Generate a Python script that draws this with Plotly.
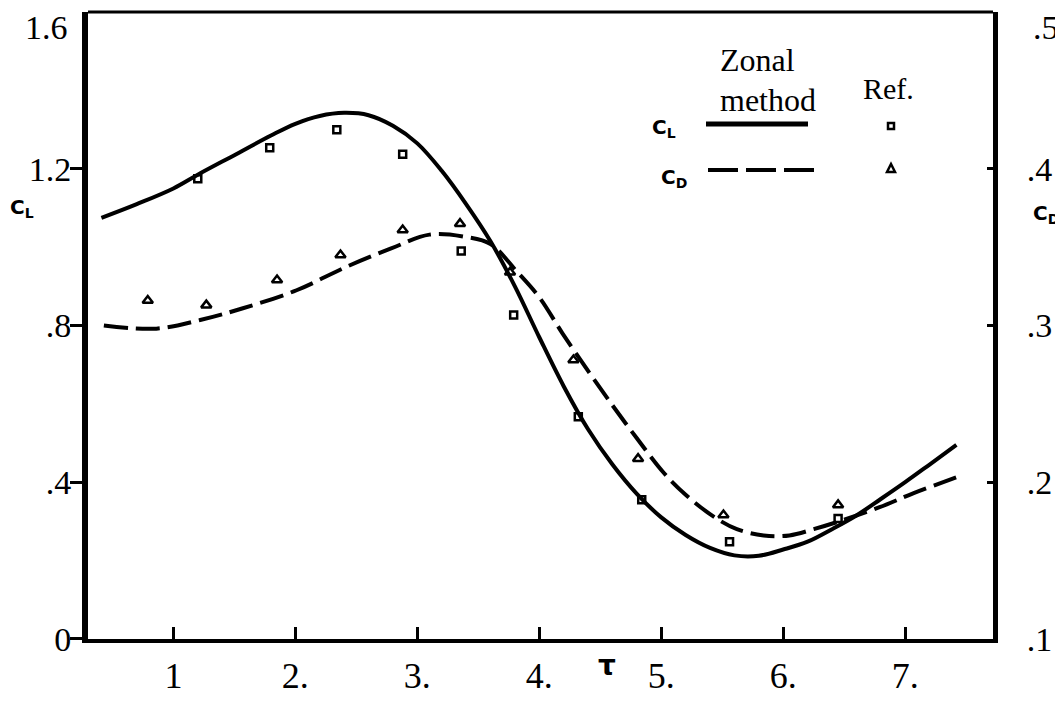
import plotly.graph_objects as go

# ---- data ----
cl_x = [0.41, 0.7, 1.0, 1.2, 1.5, 1.8, 2.0, 2.2, 2.4, 2.6, 2.8, 3.0, 3.2, 3.4, 3.6, 3.8,
        4.0, 4.2, 4.4, 4.6, 4.8, 5.0, 5.2, 5.4, 5.6, 5.8, 6.0, 6.2, 6.4, 6.6, 6.8, 7.0, 7.2, 7.42]
cl_y = [1.075, 1.11, 1.15, 1.185, 1.235, 1.285, 1.315, 1.335, 1.343, 1.337, 1.31, 1.265, 1.195,
        1.11, 1.015, 0.9, 0.77, 0.645, 0.535, 0.445, 0.37, 0.31, 0.265, 0.232, 0.213, 0.212,
        0.228, 0.248, 0.28, 0.315, 0.357, 0.40, 0.445, 0.495]

cd_x = [0.43, 0.86, 1.22, 1.57, 2.01, 2.42, 2.78, 3.10, 3.40, 3.60, 3.81, 4.00, 4.19, 4.40,
        4.61, 4.80, 5.02, 5.20, 5.43, 5.62, 5.84, 6.05, 6.25, 6.50, 6.79, 7.07, 7.47]
cd_y = [0.300, 0.298, 0.3035, 0.311, 0.3225, 0.3375, 0.349, 0.358, 0.3565, 0.352, 0.335, 0.318,
        0.295, 0.271, 0.248, 0.228, 0.206, 0.192, 0.178, 0.170, 0.166, 0.166, 0.170, 0.176,
        0.184, 0.193, 0.2045]

ref_cl_x = [1.20, 1.79, 2.34, 2.88, 3.36, 3.79, 4.32, 4.84, 5.56, 6.45]
ref_cl_y = [1.175, 1.254, 1.30, 1.237, 0.99, 0.827, 0.567, 0.355, 0.248, 0.307]

ref_cd_x = [0.79, 1.27, 1.85, 2.37, 2.88, 3.35, 3.76, 4.28, 4.81, 5.51, 6.45]
ref_cd_y = [0.316, 0.313, 0.329, 0.345, 0.361, 0.365, 0.334, 0.278, 0.215, 0.179, 0.1855]

x_ticks = [1, 2, 3, 4, 5, 6, 7]
x_ticktext = ["1", "2.", "3.", "4.", "5.", "6.", "7."]
cl_ticks = [0, 0.4, 0.8, 1.2]
cl_ticktext = ["0", ".4", ".8", "1.2"]
cl_top_label = "1.6"
cd_ticks = [0.1, 0.2, 0.3, 0.4]
cd_ticktext = [".1", ".2", ".3", ".4"]
cd_top_label = ".5"

# ---- layout geometry (screen pixels of the 1063x701 window) ----
W, H = 1063, 701
OFF = 8  # default body margin of the html page
L, R, T, B = 88, 993, 12, 639


def px(x):
    return (x - L) / (R - L)


def py(y):
    return (B - y) / (B - T)


SERIF = "Liberation Serif"
SANS = "DejaVu Sans"

fig = go.Figure()
fig.add_trace(go.Scatter(x=cl_x, y=cl_y, mode="lines", line=dict(color="black", width=4, shape="spline"),
                         showlegend=False, hoverinfo="skip"))
fig.add_trace(go.Scatter(x=cd_x, y=cd_y, yaxis="y2", mode="lines",
                         line=dict(color="black", width=4, shape="spline", dash="24px,8px"),
                         showlegend=False, hoverinfo="skip"))
fig.add_trace(go.Scatter(x=ref_cl_x, y=ref_cl_y, mode="markers",
                         marker=dict(symbol="square-open", size=7, color="black", line=dict(width=2.5)),
                         showlegend=False))
fig.add_trace(go.Scatter(x=ref_cd_x, y=ref_cd_y, yaxis="y2", mode="markers",
                         marker=dict(symbol="triangle-up-open", size=9, color="black", line=dict(width=2.5)),
                         showlegend=False))

shapes = [
    # top border
    dict(type="line", xref="paper", yref="paper", x0=0, x1=1, y0=1, y1=1,
         line=dict(color="black", width=3)),
    # legend samples
    dict(type="line", xref="paper", yref="paper", x0=px(706), x1=px(808), y0=py(124), y1=py(124),
         line=dict(color="black", width=5)),
    dict(type="line", xref="paper", yref="paper", x0=px(708), x1=px(818), y0=py(170), y1=py(170),
         line=dict(color="black", width=4, dash="30px,8px")),
    dict(type="rect", xref="paper", yref="paper", x0=px(888), x1=px(894), y0=py(129), y1=py(123),
         line=dict(color="black", width=2.5)),
    dict(type="path", xref="paper", yref="paper",
         path="M %f %f L %f %f L %f %f Z" % (px(887), py(172), px(895), py(172), px(891), py(164)),
         line=dict(color="black", width=2.5)),
]


def note(text, x, y, family, size, yanchor="middle"):
    return dict(text=text, x=px(x), y=py(y), xref="paper", yref="paper", showarrow=False,
                xanchor="center", yanchor=yanchor, borderpad=0,
                font=dict(family=family, size=size, color="black"))


annotations = [
    note(cl_top_label, 46, OFF, SERIF, 34, yanchor="top"),
    note(cd_top_label, 1046, OFF, SERIF, 34, yanchor="top"),
    note("Zonal", 757, 60, SERIF, 32),
    note("method", 768, 100, SERIF, 32),
    note("Ref.", 888, 88, SERIF, 30),
    note("<b>C<sub>L</sub></b>", 664, 128, SANS, 20),
    note("<b>C<sub>D</sub></b>", 674, 178, SANS, 20),
    note("<b>C<sub>L</sub></b>", 22, 208, SANS, 20),
    note("<b>C<sub>D</sub></b>", 1046, 214, SANS, 20),
    note("<b>τ</b>", 607, 666, SANS, 28),
]

fig.update_layout(
    width=W - OFF, height=H - OFF,
    margin=dict(l=L - OFF, r=W - R, t=T - OFF, b=H - B, pad=0, autoexpand=False),
    paper_bgcolor="white", plot_bgcolor="white",
    showlegend=False,
    shapes=shapes, annotations=annotations,
    xaxis=dict(range=[0.30, 7.72], tickvals=x_ticks, ticktext=x_ticktext, ticks="inside",
               ticklen=12, tickwidth=3, tickcolor="black", showgrid=False, zeroline=False,
               showline=True, linewidth=4, linecolor="black", automargin=False,
               tickfont=dict(family=SERIF, size=36, color="black"), ticklabelstandoff=2),
    yaxis=dict(range=[-0.0005, 1.6005], tickvals=cl_ticks, ticktext=cl_ticktext, ticks="outside",
               ticklen=12, tickwidth=3, tickcolor="black", showgrid=False, zeroline=False,
               showline=True, linewidth=6, linecolor="black", automargin=False,
               ticklabeloverflow="allow",
               tickfont=dict(family=SERIF, size=34, color="black"), ticklabelstandoff=-8),
    yaxis2=dict(range=[0.0999, 0.5001], overlaying="y", side="right", tickvals=cd_ticks,
                ticktext=cd_ticktext, ticks="inside", ticklen=6, tickwidth=3, tickcolor="black",
                showgrid=False, zeroline=False, showline=True, linewidth=5, linecolor="black",
                automargin=False, ticklabeloverflow="allow",
                tickfont=dict(family=SERIF, size=34, color="black"), ticklabelstandoff=22),
)

fig.write_html("out.html")
